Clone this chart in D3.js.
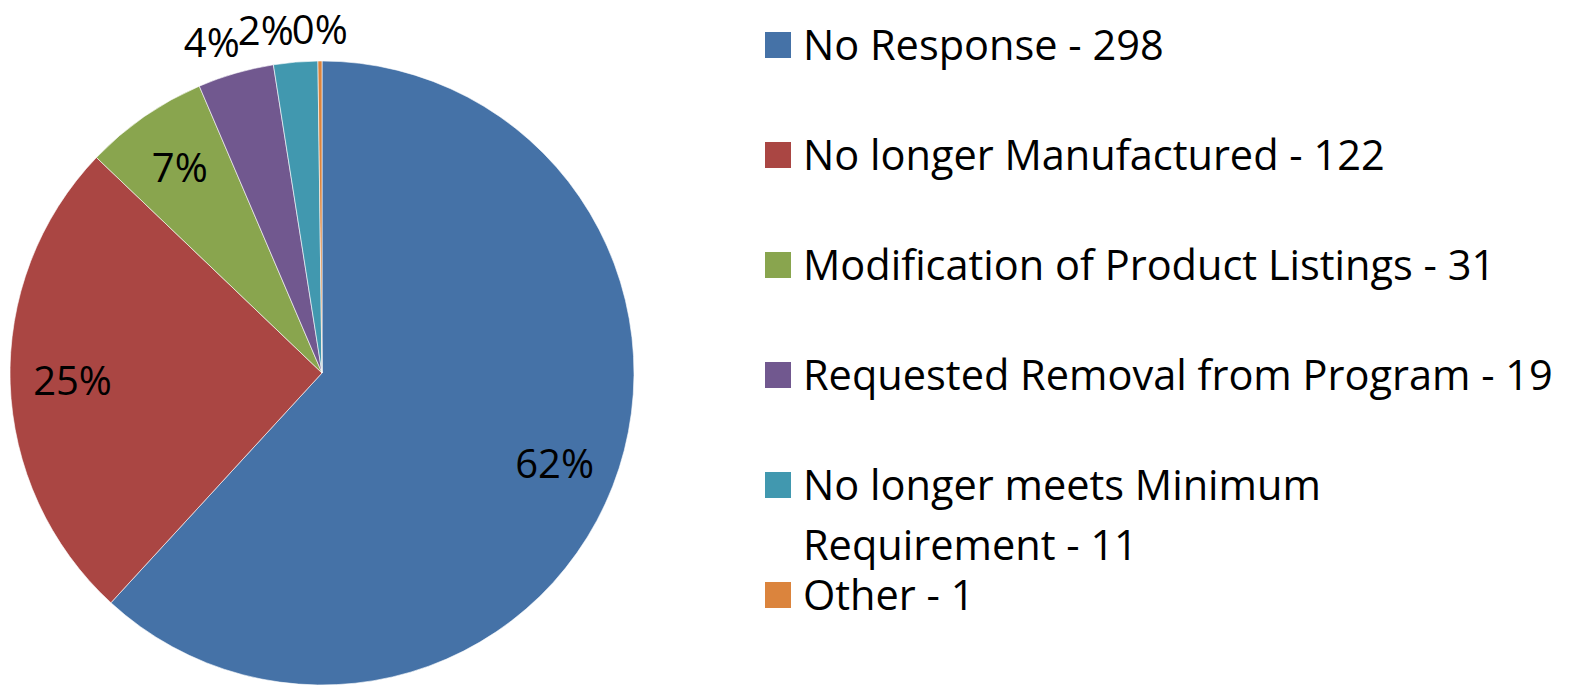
<!DOCTYPE html>
<html>
<head>
<meta charset="utf-8">
<script src="https://cdn.jsdelivr.net/npm/d3@7"></script>
<style>
  body { margin: 0; background: #fff; }
  text { font-family: "Open Sans", sans-serif; fill: #000; }
</style>
</head>
<body>
<div id="chart"></div>
<script>
const categories = [
  "No Response",
  "No longer Manufactured",
  "Modification of  Product Listings",
  "Requested Removal from Program",
  "No longer meets Minimum Requirement",
  "Other"
]
const counts = [298, 122, 31, 19, 11, 1]
// percentage labels as printed on the slices
const pctLabels = ["62%", "25%", "7%", "4%", "2%", "0%"]
// legend lines as they wrap in the picture
const legendLines = [
  ["No Response - 298"],
  ["No longer Manufactured - 122"],
  ["Modification of  Product Listings - 31"],
  ["Requested Removal from Program - 19"],
  ["No longer meets Minimum", "Requirement - 11"],
  ["Other - 1"]
]
const colors = ["#4572A7", "#AA4643", "#89A54E", "#71588F", "#4198AF", "#DB843D"]

const W = 1571, H = 685
const cx = 322, cy = 373, R = 312
const labelSize = 40
const legendSize = 41.5

const data = categories.map((c, i) => ({
  name: c, value: counts[i], color: colors[i], lines: legendLines[i], pct: pctLabels[i]
}))
const total = d3.sum(counts)

const svg = d3.select("#chart").append("svg")
  .attr("width", W)
  .attr("height", H)

const pie = d3.pie().sort(null).value(d => d.value)
const arcs = pie(data)
const arc = d3.arc().innerRadius(0).outerRadius(R)
const labelArc = d3.arc().innerRadius(R * 0.8).outerRadius(R * 0.8)
const outerArc = d3.arc().innerRadius(R * 1.1).outerRadius(R * 1.1)

const g = svg.append("g").attr("transform", `translate(${cx},${cy})`)

g.selectAll("path")
  .data(arcs)
  .enter()
  .append("path")
  .attr("d", arc)
  .attr("fill", d => d.data.color)
  .attr("stroke", "#fff")
  .attr("stroke-width", 0.6)

// label positions: inside for big slices, outside for small ones
arcs.forEach(d => {
  d.outside = d.data.value / total < 0.05
  d.pos = d.outside ? outerArc.centroid(d) : labelArc.centroid(d)
})
// small outside labels get pushed left so they don't pile up
const minGap = 54
for (let i = arcs.length - 2; i >= 0; i--) {
  if (arcs[i].outside && arcs[i + 1].outside && arcs[i + 1].pos[0] - arcs[i].pos[0] < minGap) {
    arcs[i].pos[0] = arcs[i + 1].pos[0] - minGap
  }
}

g.selectAll(".pct")
  .data(arcs)
  .enter()
  .append("text")
  .attr("class", "pct")
  .attr("transform", d => `translate(${d.pos})`)
  .attr("text-anchor", "middle")
  .attr("dy", "0.35em")
  .style("font-size", labelSize + "px")
  .text(d => d.data.pct)

// legend
const rowTops = [45, 155, 265, 375, 485, 595]
const legend = svg.append("g").attr("transform", "translate(765,0)")

const item = legend.selectAll(".legend")
  .data(data)
  .enter()
  .append("g")
  .attr("class", "legend")
  .attr("transform", (d, i) => `translate(0,${rowTops[i]})`)

item.append("rect")
  .attr("x", 0)
  .attr("y", -13)
  .attr("width", 26)
  .attr("height", 26)
  .attr("fill", d => d.color)

item.append("text")
  .style("font-size", legendSize + "px")
  .selectAll("tspan")
  .data(d => d.lines)
  .enter()
  .append("tspan")
  .attr("x", 38)
  .attr("y", (d, i) => i * 60)
  .attr("dy", "0.35em")
  .text(d => d)
</script>
</body>
</html>
